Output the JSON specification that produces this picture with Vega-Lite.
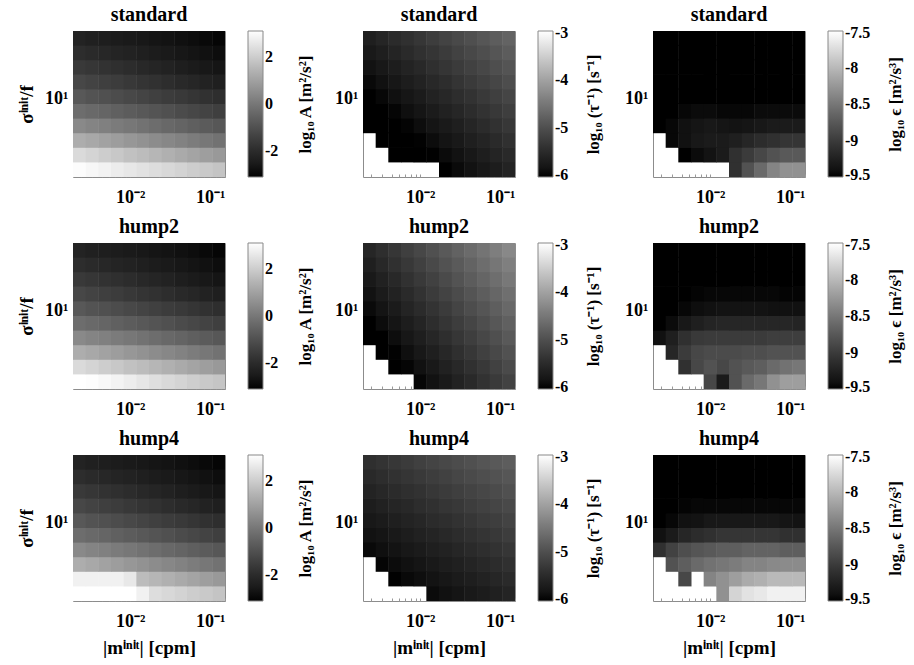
{
"$schema": "https://vega.github.io/schema/vega-lite/v6.json",
"background": "white",
"padding": {"left": 17, "top": 4, "right": 2, "bottom": 2},
"datasets": {
"xs": [{"i":0,"x":0.0025,"x2":0.003441},{"i":1,"x":0.0034,"x2":0.004675},{"i":2,"x":0.00462,"x2":0.006365},{"i":3,"x":0.00629,"x2":0.008653},{"i":4,"x":0.00855,"x2":0.01177},{"i":5,"x":0.01163,"x2":0.01599},{"i":6,"x":0.0158,"x2":0.02176},{"i":7,"x":0.0215,"x2":0.02955},{"i":8,"x":0.0292,"x2":0.04028},{"i":9,"x":0.0398,"x2":0.05475},{"i":10,"x":0.0541,"x2":0.07438},{"i":11,"x":0.0735,"x2":0.1012}],
"ys": [{"j":0,"y":2,"y2":2.739},{"j":1,"y":2.698,"y2":3.696},{"j":2,"y":3.641,"y2":4.986},{"j":3,"y":4.912,"y2":6.727},{"j":4,"y":6.628,"y2":9.078},{"j":5,"y":8.944,"y2":12.25},{"j":6,"y":12.07,"y2":16.52},{"j":7,"y":16.28,"y2":22.30},{"j":8,"y":21.97,"y2":30.08},{"j":9,"y":29.64,"y2":40.6}],
"cells": [
{"i":0,"j":0,"a1":3.04,"a2":3.10,"a3":3.10},
{"i":1,"j":0,"a1":2.93,"a2":3.05,"a3":3.10},
{"i":2,"j":0,"a1":2.82,"a2":2.95,"a3":3.10},
{"i":3,"j":0,"a1":2.70,"a2":2.85,"a3":3.10},
{"i":4,"j":0,"a1":2.59,"a2":2.72,"a3":3.10,"t2":-5.95,"e2":-8.90},
{"i":5,"j":0,"a1":2.48,"a2":2.55,"a3":2.80,"t2":-5.83,"t3":-5.91,"e2":-9.30,"e3":-8.30},
{"i":6,"j":0,"a1":2.36,"a2":2.40,"a3":2.36,"t1":-6.00,"t2":-5.72,"t3":-5.85,"e1":-9.10,"e2":-8.80,"e3":-7.80},
{"i":7,"j":0,"a1":2.25,"a2":2.28,"a3":2.25,"t1":-5.92,"t2":-5.61,"t3":-5.80,"e1":-8.80,"e2":-8.60,"e3":-7.70},
{"i":8,"j":0,"a1":2.14,"a2":2.16,"a3":2.14,"t1":-5.84,"t2":-5.50,"t3":-5.74,"e1":-8.60,"e2":-8.50,"e3":-7.66},
{"i":9,"j":0,"a1":2.02,"a2":2.04,"a3":2.02,"t1":-5.76,"t2":-5.38,"t3":-5.69,"e1":-8.40,"e2":-8.30,"e3":-7.60},
{"i":10,"j":0,"a1":1.91,"a2":1.93,"a3":1.91,"t1":-5.68,"t2":-5.27,"t3":-5.63,"e1":-8.30,"e2":-8.20,"e3":-7.60},
{"i":11,"j":0,"a1":1.80,"a2":1.82,"a3":1.80,"t1":-5.59,"t2":-5.16,"t3":-5.58,"e1":-8.30,"e2":-8.20,"e3":-7.60},
{"i":0,"j":1,"a1":2.29,"a2":2.29,"a3":2.80},
{"i":1,"j":1,"a1":2.16,"a2":2.16,"a3":2.80},
{"i":2,"j":1,"a1":2.02,"a2":2.02,"a3":2.80,"t1":-6.00,"t2":-6.00,"t3":-5.99,"e1":-9.50,"e2":-9.10,"e3":-8.90},
{"i":3,"j":1,"a1":1.89,"a2":1.89,"a3":2.80,"t1":-6.00,"t2":-5.96,"t3":-5.93,"e1":-9.44,"e2":-8.90},
{"i":4,"j":1,"a1":1.75,"a2":1.75,"a3":2.60,"t1":-6.00,"t2":-5.85,"t3":-5.88,"e1":-9.38,"e2":-8.80,"e3":-8.40},
{"i":5,"j":1,"a1":1.62,"a2":1.62,"a3":1.62,"t1":-5.99,"t2":-5.74,"t3":-5.82,"e1":-9.30,"e2":-8.90,"e3":-8.30},
{"i":6,"j":1,"a1":1.48,"a2":1.48,"a3":1.48,"t1":-5.91,"t2":-5.62,"t3":-5.77,"e1":-9.10,"e2":-8.80,"e3":-8.20},
{"i":7,"j":1,"a1":1.35,"a2":1.35,"a3":1.35,"t1":-5.83,"t2":-5.51,"t3":-5.71,"e1":-9.00,"e2":-8.74,"e3":-8.10},
{"i":8,"j":1,"a1":1.21,"a2":1.21,"a3":1.21,"t1":-5.75,"t2":-5.40,"t3":-5.66,"e1":-8.90,"e2":-8.70,"e3":-8.06},
{"i":9,"j":1,"a1":1.08,"a2":1.08,"a3":1.08,"t1":-5.66,"t2":-5.29,"t3":-5.60,"e1":-8.80,"e2":-8.60,"e3":-8.00},
{"i":10,"j":1,"a1":0.94,"a2":0.94,"a3":0.94,"t1":-5.58,"t2":-5.18,"t3":-5.55,"e1":-8.74,"e2":-8.54,"e3":-8.00},
{"i":11,"j":1,"a1":0.81,"a2":0.81,"a3":0.81,"t1":-5.50,"t2":-5.06,"t3":-5.49,"e1":-8.74,"e2":-8.50,"e3":-8.00},
{"i":0,"j":2,"a1":1.29,"a2":1.29,"a3":1.29},
{"i":1,"j":2,"a1":1.17,"a2":1.17,"a3":1.17,"t1":-6.00,"t2":-6.00,"t3":-5.96,"e1":-9.46,"e2":-9.20,"e3":-8.80},
{"i":2,"j":2,"a1":1.04,"a2":1.04,"a3":1.04,"t1":-6.00,"t2":-5.98,"t3":-5.90,"e1":-9.40,"e2":-9.00,"e3":-8.70},
{"i":3,"j":2,"a1":0.91,"a2":0.91,"a3":0.91,"t1":-6.00,"t2":-5.87,"t3":-5.85,"e1":-9.34,"e2":-8.90,"e3":-8.60},
{"i":4,"j":2,"a1":0.78,"a2":0.78,"a3":0.78,"t1":-5.98,"t2":-5.76,"t3":-5.79,"e1":-9.30,"e2":-8.86,"e3":-8.54},
{"i":5,"j":2,"a1":0.65,"a2":0.65,"a3":0.65,"t1":-5.90,"t2":-5.64,"t3":-5.74,"e1":-9.30,"e2":-8.86,"e3":-8.50},
{"i":6,"j":2,"a1":0.52,"a2":0.52,"a3":0.52,"t1":-5.81,"t2":-5.53,"t3":-5.68,"e1":-9.26,"e2":-8.86,"e3":-8.46},
{"i":7,"j":2,"a1":0.39,"a2":0.39,"a3":0.39,"t1":-5.73,"t2":-5.42,"t3":-5.63,"e1":-9.20,"e2":-8.84,"e3":-8.40},
{"i":8,"j":2,"a1":0.26,"a2":0.26,"a3":0.26,"t1":-5.65,"t2":-5.31,"t3":-5.57,"e1":-9.14,"e2":-8.84,"e3":-8.40},
{"i":9,"j":2,"a1":0.13,"a2":0.13,"a3":0.13,"t1":-5.57,"t2":-5.19,"t3":-5.52,"e1":-9.10,"e2":-8.80,"e3":-8.36},
{"i":10,"j":2,"a1":0.00,"a2":0.00,"a3":0.00,"t1":-5.49,"t2":-5.08,"t3":-5.46,"e1":-9.06,"e2":-8.80,"e3":-8.34},
{"i":11,"j":2,"a1":-0.12,"a2":-0.12,"a3":-0.12,"t1":-5.40,"t2":-4.97,"t3":-5.41,"e1":-9.06,"e2":-8.80,"e3":-8.34},
{"i":0,"j":3,"a1":0.44,"a2":0.44,"a3":0.44,"t1":-6.00,"t2":-6.00,"t3":-5.93,"e1":-9.50,"e2":-9.40,"e3":-9.10},
{"i":1,"j":3,"a1":0.33,"a2":0.33,"a3":0.33,"t1":-6.00,"t2":-6.00,"t3":-5.87,"e1":-9.46,"e2":-9.26,"e3":-8.94},
{"i":2,"j":3,"a1":0.22,"a2":0.22,"a3":0.22,"t1":-6.00,"t2":-5.89,"t3":-5.82,"e1":-9.40,"e2":-9.10,"e3":-8.84},
{"i":3,"j":3,"a1":0.10,"a2":0.10,"a3":0.10,"t1":-5.97,"t2":-5.77,"t3":-5.76,"e1":-9.36,"e2":-9.02,"e3":-8.78},
{"i":4,"j":3,"a1":-0.01,"a2":-0.01,"a3":-0.01,"t1":-5.89,"t2":-5.66,"t3":-5.71,"e1":-9.34,"e2":-9.00,"e3":-8.74},
{"i":5,"j":3,"a1":-0.13,"a2":-0.13,"a3":-0.13,"t1":-5.80,"t2":-5.55,"t3":-5.65,"e1":-9.36,"e2":-9.00,"e3":-8.70},
{"i":6,"j":3,"a1":-0.24,"a2":-0.24,"a3":-0.24,"t1":-5.72,"t2":-5.43,"t3":-5.60,"e1":-9.38,"e2":-9.00,"e3":-8.70},
{"i":7,"j":3,"a1":-0.36,"a2":-0.36,"a3":-0.36,"t1":-5.64,"t2":-5.32,"t3":-5.54,"e1":-9.36,"e2":-9.00,"e3":-8.66},
{"i":8,"j":3,"a1":-0.47,"a2":-0.47,"a3":-0.47,"t1":-5.56,"t2":-5.21,"t3":-5.49,"e1":-9.34,"e2":-9.00,"e3":-8.66},
{"i":9,"j":3,"a1":-0.59,"a2":-0.59,"a3":-0.59,"t1":-5.47,"t2":-5.10,"t3":-5.43,"e1":-9.30,"e2":-8.98,"e3":-8.66},
{"i":10,"j":3,"a1":-0.70,"a2":-0.70,"a3":-0.70,"t1":-5.39,"t2":-4.99,"t3":-5.38,"e1":-9.30,"e2":-8.98,"e3":-8.70},
{"i":11,"j":3,"a1":-0.81,"a2":-0.81,"a3":-0.81,"t1":-5.31,"t2":-4.87,"t3":-5.32,"e1":-9.30,"e2":-8.98,"e3":-8.70},
{"i":0,"j":4,"a1":-0.24,"a2":-0.24,"a3":-0.24,"t1":-6.00,"t2":-6.00,"t3":-5.84,"e1":-9.50,"e2":-9.50,"e3":-9.40},
{"i":1,"j":4,"a1":-0.35,"a2":-0.35,"a3":-0.35,"t1":-6.00,"t2":-5.90,"t3":-5.79,"e1":-9.50,"e2":-9.44,"e3":-9.30},
{"i":2,"j":4,"a1":-0.46,"a2":-0.46,"a3":-0.46,"t1":-5.96,"t2":-5.79,"t3":-5.73,"e1":-9.46,"e2":-9.34,"e3":-9.20},
{"i":3,"j":4,"a1":-0.57,"a2":-0.57,"a3":-0.57,"t1":-5.87,"t2":-5.68,"t3":-5.68,"e1":-9.44,"e2":-9.26,"e3":-9.14},
{"i":4,"j":4,"a1":-0.68,"a2":-0.68,"a3":-0.68,"t1":-5.79,"t2":-5.57,"t3":-5.62,"e1":-9.44,"e2":-9.22,"e3":-9.10},
{"i":5,"j":4,"a1":-0.79,"a2":-0.79,"a3":-0.79,"t1":-5.71,"t2":-5.45,"t3":-5.57,"e1":-9.46,"e2":-9.20,"e3":-9.06},
{"i":6,"j":4,"a1":-0.89,"a2":-0.89,"a3":-0.89,"t1":-5.62,"t2":-5.34,"t3":-5.51,"e1":-9.46,"e2":-9.20,"e3":-9.06},
{"i":7,"j":4,"a1":-1.00,"a2":-1.00,"a3":-1.00,"t1":-5.54,"t2":-5.23,"t3":-5.46,"e1":-9.46,"e2":-9.20,"e3":-9.06},
{"i":8,"j":4,"a1":-1.11,"a2":-1.11,"a3":-1.11,"t1":-5.46,"t2":-5.12,"t3":-5.40,"e1":-9.44,"e2":-9.20,"e3":-9.06},
{"i":9,"j":4,"a1":-1.22,"a2":-1.22,"a3":-1.22,"t1":-5.38,"t2":-5.00,"t3":-5.35,"e1":-9.44,"e2":-9.20,"e3":-9.06},
{"i":10,"j":4,"a1":-1.33,"a2":-1.33,"a3":-1.33,"t1":-5.30,"t2":-4.89,"t3":-5.29,"e1":-9.44,"e2":-9.20,"e3":-9.10},
{"i":11,"j":4,"a1":-1.44,"a2":-1.44,"a3":-1.44,"t1":-5.21,"t2":-4.78,"t3":-5.23,"e1":-9.44,"e2":-9.22,"e3":-9.10},
{"i":0,"j":5,"a1":-0.79,"a2":-0.79,"a3":-0.79,"t1":-6.00,"t2":-5.92,"t3":-5.76,"e1":-9.50,"e2":-9.50,"e3":-9.50},
{"i":1,"j":5,"a1":-0.90,"a2":-0.90,"a3":-0.90,"t1":-5.94,"t2":-5.81,"t3":-5.70,"e1":-9.50,"e2":-9.50,"e3":-9.46},
{"i":2,"j":5,"a1":-1.00,"a2":-1.00,"a3":-1.00,"t1":-5.86,"t2":-5.70,"t3":-5.65,"e1":-9.50,"e2":-9.46,"e3":-9.40},
{"i":3,"j":5,"a1":-1.10,"a2":-1.10,"a3":-1.10,"t1":-5.78,"t2":-5.58,"t3":-5.59,"e1":-9.50,"e2":-9.42,"e3":-9.38},
{"i":4,"j":5,"a1":-1.21,"a2":-1.21,"a3":-1.21,"t1":-5.70,"t2":-5.47,"t3":-5.54,"e1":-9.50,"e2":-9.40,"e3":-9.34},
{"i":5,"j":5,"a1":-1.31,"a2":-1.31,"a3":-1.31,"t1":-5.61,"t2":-5.36,"t3":-5.48,"e1":-9.50,"e2":-9.38,"e3":-9.34},
{"i":6,"j":5,"a1":-1.41,"a2":-1.41,"a3":-1.41,"t1":-5.53,"t2":-5.25,"t3":-5.43,"e1":-9.50,"e2":-9.38,"e3":-9.34},
{"i":7,"j":5,"a1":-1.52,"a2":-1.52,"a3":-1.52,"t1":-5.45,"t2":-5.13,"t3":-5.37,"e1":-9.50,"e2":-9.38,"e3":-9.34},
{"i":8,"j":5,"a1":-1.62,"a2":-1.62,"a3":-1.62,"t1":-5.37,"t2":-5.02,"t3":-5.32,"e1":-9.50,"e2":-9.38,"e3":-9.34},
{"i":9,"j":5,"a1":-1.72,"a2":-1.72,"a3":-1.72,"t1":-5.28,"t2":-4.91,"t3":-5.26,"e1":-9.50,"e2":-9.40,"e3":-9.34},
{"i":10,"j":5,"a1":-1.83,"a2":-1.83,"a3":-1.83,"t1":-5.20,"t2":-4.80,"t3":-5.21,"e1":-9.50,"e2":-9.40,"e3":-9.36},
{"i":11,"j":5,"a1":-1.93,"a2":-1.93,"a3":-1.93,"t1":-5.12,"t2":-4.68,"t3":-5.15,"e1":-9.50,"e2":-9.40,"e3":-9.38},
{"i":0,"j":6,"a1":-1.23,"a2":-1.23,"a3":-1.23,"t1":-5.93,"t2":-5.83,"t3":-5.67,"e1":-9.50,"e2":-9.50,"e3":-9.50},
{"i":1,"j":6,"a1":-1.34,"a2":-1.34,"a3":-1.34,"t1":-5.85,"t2":-5.71,"t3":-5.62,"e1":-9.50,"e2":-9.50,"e3":-9.50},
{"i":2,"j":6,"a1":-1.44,"a2":-1.44,"a3":-1.44,"t1":-5.77,"t2":-5.60,"t3":-5.56,"e1":-9.50,"e2":-9.50,"e3":-9.48},
{"i":3,"j":6,"a1":-1.54,"a2":-1.54,"a3":-1.54,"t1":-5.68,"t2":-5.49,"t3":-5.51,"e1":-9.50,"e2":-9.48,"e3":-9.46},
{"i":4,"j":6,"a1":-1.65,"a2":-1.65,"a3":-1.65,"t1":-5.60,"t2":-5.38,"t3":-5.45,"e1":-9.50,"e2":-9.46,"e3":-9.46},
{"i":5,"j":6,"a1":-1.75,"a2":-1.75,"a3":-1.75,"t1":-5.52,"t2":-5.26,"t3":-5.40,"e1":-9.50,"e2":-9.46,"e3":-9.46},
{"i":6,"j":6,"a1":-1.85,"a2":-1.85,"a3":-1.85,"t1":-5.44,"t2":-5.15,"t3":-5.34,"e1":-9.50,"e2":-9.46,"e3":-9.46},
{"i":7,"j":6,"a1":-1.96,"a2":-1.96,"a3":-1.96,"t1":-5.35,"t2":-5.04,"t3":-5.29,"e1":-9.50,"e2":-9.46,"e3":-9.46},
{"i":8,"j":6,"a1":-2.06,"a2":-2.06,"a3":-2.06,"t1":-5.27,"t2":-4.93,"t3":-5.23,"e1":-9.50,"e2":-9.46,"e3":-9.46},
{"i":9,"j":6,"a1":-2.16,"a2":-2.16,"a3":-2.16,"t1":-5.19,"t2":-4.81,"t3":-5.18,"e1":-9.50,"e2":-9.46,"e3":-9.46},
{"i":10,"j":6,"a1":-2.27,"a2":-2.27,"a3":-2.27,"t1":-5.11,"t2":-4.70,"t3":-5.12,"e1":-9.50,"e2":-9.48,"e3":-9.46},
{"i":11,"j":6,"a1":-2.37,"a2":-2.37,"a3":-2.37,"t1":-5.02,"t2":-4.59,"t3":-5.07,"e1":-9.50,"e2":-9.48,"e3":-9.46},
{"i":0,"j":7,"a1":-1.60,"a2":-1.60,"a3":-1.60,"t1":-5.84,"t2":-5.73,"t3":-5.59,"e1":-9.5,"e2":-9.5,"e3":-9.5},
{"i":1,"j":7,"a1":-1.70,"a2":-1.70,"a3":-1.70,"t1":-5.75,"t2":-5.62,"t3":-5.53,"e1":-9.5,"e2":-9.5,"e3":-9.5},
{"i":2,"j":7,"a1":-1.80,"a2":-1.80,"a3":-1.80,"t1":-5.67,"t2":-5.51,"t3":-5.48,"e1":-9.5,"e2":-9.5,"e3":-9.5},
{"i":3,"j":7,"a1":-1.89,"a2":-1.89,"a3":-1.89,"t1":-5.59,"t2":-5.39,"t3":-5.42,"e1":-9.5,"e2":-9.5,"e3":-9.5},
{"i":4,"j":7,"a1":-1.99,"a2":-1.99,"a3":-1.99,"t1":-5.51,"t2":-5.28,"t3":-5.37,"e1":-9.5,"e2":-9.5,"e3":-9.5},
{"i":5,"j":7,"a1":-2.09,"a2":-2.09,"a3":-2.09,"t1":-5.42,"t2":-5.17,"t3":-5.31,"e1":-9.5,"e2":-9.5,"e3":-9.5},
{"i":6,"j":7,"a1":-2.19,"a2":-2.19,"a3":-2.19,"t1":-5.34,"t2":-5.06,"t3":-5.26,"e1":-9.5,"e2":-9.5,"e3":-9.5},
{"i":7,"j":7,"a1":-2.29,"a2":-2.29,"a3":-2.29,"t1":-5.26,"t2":-4.94,"t3":-5.20,"e1":-9.5,"e2":-9.5,"e3":-9.5},
{"i":8,"j":7,"a1":-2.39,"a2":-2.39,"a3":-2.39,"t1":-5.18,"t2":-4.83,"t3":-5.15,"e1":-9.5,"e2":-9.5,"e3":-9.5},
{"i":9,"j":7,"a1":-2.48,"a2":-2.48,"a3":-2.48,"t1":-5.09,"t2":-4.72,"t3":-5.09,"e1":-9.5,"e2":-9.5,"e3":-9.5},
{"i":10,"j":7,"a1":-2.58,"a2":-2.58,"a3":-2.58,"t1":-5.01,"t2":-4.61,"t3":-5.04,"e1":-9.5,"e2":-9.5,"e3":-9.5},
{"i":11,"j":7,"a1":-2.68,"a2":-2.68,"a3":-2.68,"t1":-4.93,"t2":-4.49,"t3":-4.98,"e1":-9.5,"e2":-9.5,"e3":-9.5},
{"i":0,"j":8,"a1":-1.96,"a2":-1.96,"a3":-1.96,"t1":-5.74,"t2":-5.64,"t3":-5.50,"e1":-9.5,"e2":-9.5,"e3":-9.5},
{"i":1,"j":8,"a1":-2.04,"a2":-2.04,"a3":-2.04,"t1":-5.66,"t2":-5.52,"t3":-5.45,"e1":-9.5,"e2":-9.5,"e3":-9.5},
{"i":2,"j":8,"a1":-2.13,"a2":-2.13,"a3":-2.13,"t1":-5.58,"t2":-5.41,"t3":-5.39,"e1":-9.5,"e2":-9.5,"e3":-9.5},
{"i":3,"j":8,"a1":-2.21,"a2":-2.21,"a3":-2.21,"t1":-5.49,"t2":-5.30,"t3":-5.34,"e1":-9.5,"e2":-9.5,"e3":-9.5},
{"i":4,"j":8,"a1":-2.29,"a2":-2.29,"a3":-2.29,"t1":-5.41,"t2":-5.19,"t3":-5.28,"e1":-9.5,"e2":-9.5,"e3":-9.5},
{"i":5,"j":8,"a1":-2.37,"a2":-2.37,"a3":-2.37,"t1":-5.33,"t2":-5.07,"t3":-5.23,"e1":-9.5,"e2":-9.5,"e3":-9.5},
{"i":6,"j":8,"a1":-2.46,"a2":-2.46,"a3":-2.46,"t1":-5.25,"t2":-4.96,"t3":-5.17,"e1":-9.5,"e2":-9.5,"e3":-9.5},
{"i":7,"j":8,"a1":-2.54,"a2":-2.54,"a3":-2.54,"t1":-5.16,"t2":-4.85,"t3":-5.11,"e1":-9.5,"e2":-9.5,"e3":-9.5},
{"i":8,"j":8,"a1":-2.62,"a2":-2.62,"a3":-2.62,"t1":-5.08,"t2":-4.74,"t3":-5.06,"e1":-9.5,"e2":-9.5,"e3":-9.5},
{"i":9,"j":8,"a1":-2.70,"a2":-2.70,"a3":-2.70,"t1":-5.00,"t2":-4.62,"t3":-5.00,"e1":-9.5,"e2":-9.5,"e3":-9.5},
{"i":10,"j":8,"a1":-2.79,"a2":-2.79,"a3":-2.79,"t1":-4.92,"t2":-4.51,"t3":-4.95,"e1":-9.5,"e2":-9.5,"e3":-9.5},
{"i":11,"j":8,"a1":-2.87,"a2":-2.87,"a3":-2.87,"t1":-4.83,"t2":-4.40,"t3":-4.90,"e1":-9.5,"e2":-9.5,"e3":-9.5},
{"i":0,"j":9,"a1":-2.26,"a2":-2.26,"a3":-2.26,"t1":-5.65,"t2":-5.54,"t3":-5.42,"e1":-9.5,"e2":-9.5,"e3":-9.5},
{"i":1,"j":9,"a1":-2.33,"a2":-2.33,"a3":-2.33,"t1":-5.56,"t2":-5.43,"t3":-5.36,"e1":-9.5,"e2":-9.5,"e3":-9.5},
{"i":2,"j":9,"a1":-2.40,"a2":-2.40,"a3":-2.40,"t1":-5.48,"t2":-5.32,"t3":-5.31,"e1":-9.5,"e2":-9.5,"e3":-9.5},
{"i":3,"j":9,"a1":-2.47,"a2":-2.47,"a3":-2.47,"t1":-5.40,"t2":-5.20,"t3":-5.25,"e1":-9.5,"e2":-9.5,"e3":-9.5},
{"i":4,"j":9,"a1":-2.53,"a2":-2.53,"a3":-2.53,"t1":-5.32,"t2":-5.09,"t3":-5.19,"e1":-9.5,"e2":-9.5,"e3":-9.5},
{"i":5,"j":9,"a1":-2.60,"a2":-2.60,"a3":-2.60,"t1":-5.23,"t2":-4.98,"t3":-5.14,"e1":-9.5,"e2":-9.5,"e3":-9.5},
{"i":6,"j":9,"a1":-2.67,"a2":-2.67,"a3":-2.67,"t1":-5.15,"t2":-4.87,"t3":-5.08,"e1":-9.5,"e2":-9.5,"e3":-9.5},
{"i":7,"j":9,"a1":-2.74,"a2":-2.74,"a3":-2.74,"t1":-5.07,"t2":-4.75,"t3":-5.03,"e1":-9.5,"e2":-9.5,"e3":-9.5},
{"i":8,"j":9,"a1":-2.80,"a2":-2.80,"a3":-2.80,"t1":-4.99,"t2":-4.64,"t3":-4.98,"e1":-9.5,"e2":-9.5,"e3":-9.5},
{"i":9,"j":9,"a1":-2.87,"a2":-2.87,"a3":-2.87,"t1":-4.90,"t2":-4.53,"t3":-4.92,"e1":-9.5,"e2":-9.5,"e3":-9.5},
{"i":10,"j":9,"a1":-2.94,"a2":-2.94,"a3":-2.94,"t1":-4.82,"t2":-4.42,"t3":-4.87,"e1":-9.5,"e2":-9.5,"e3":-9.5},
{"i":11,"j":9,"a1":-3.01,"a2":-3.01,"a3":-3.01,"t1":-4.74,"t2":-4.30,"t3":-4.81,"e1":-9.5,"e2":-9.5,"e3":-9.5}
]
},
"data": {"name": "cells"},
"transform": [
{"lookup": "i", "from": {"data": {"name": "xs"}, "key": "i", "fields": ["x", "x2"]}},
{"lookup": "j", "from": {"data": {"name": "ys"}, "key": "j", "fields": ["y", "y2"]}}
],
"columns": 3,
"spacing": {"row": 66, "column": 138},
"bounds": "flush",
"concat": [
{"title": "standard", "width": 152, "height": 146, "transform": [{"filter": "isValid(datum.a1)"}],
 "layer": [
 {"mark": {"type": "rect", "clip": true}, "encoding": {
  "x": {"field": "x", "type": "quantitative", "scale": {"type": "log", "domain": [0.0025, 0.1], "nice": false}, "axis": {"values": [0.003,0.004,0.005,0.006,0.007,0.008,0.009,0.01,0.02,0.03,0.04,0.05,0.06,0.07,0.08,0.09,0.1], "labelExpr": "datum.value == 0.01 ? '10⁻²' : datum.value == 0.1 ? '10⁻¹' : ''", "title": null}},
  "x2": {"field": "x2"},
  "y": {"field": "y", "type": "quantitative", "scale": {"type": "log", "domain": [2, 40], "nice": false}, "axis": {"values": [10], "labelExpr": "'10¹'", "title": "σⁱⁿⁱᵗ/f"}},
  "y2": {"field": "y2"},
  "color": {"field": "a1", "type": "quantitative", "scale": {"domain": [-3.1, 3.1], "range": ["#000000", "#ffffff"], "clamp": true}, "legend": {"title": null, "values": [-2, 0, 2], "labelExpr": "'' + datum.value"}}}},
 {"mark": {"type": "rect", "opacity": 0}, "encoding": {
  "x": {"field": "x", "type": "quantitative"}, "x2": {"field": "x2"},
  "y": {"field": "y", "type": "quantitative", "scale": {"type": "log", "domain": [2, 40], "nice": false}, "axis": {"orient": "right", "labels": false, "offset": 72, "title": "log₁₀ A [m²/s²]"}}, "y2": {"field": "y2"}}}
 ], "resolve": {"scale": {"y": "independent"}}},
{"title": "standard", "width": 152, "height": 146, "transform": [{"filter": "isValid(datum.t1)"}],
 "layer": [
 {"mark": {"type": "rect", "clip": true}, "encoding": {
  "x": {"field": "x", "type": "quantitative", "scale": {"type": "log", "domain": [0.0025, 0.1], "nice": false}, "axis": {"values": [0.003,0.004,0.005,0.006,0.007,0.008,0.009,0.01,0.02,0.03,0.04,0.05,0.06,0.07,0.08,0.09,0.1], "labelExpr": "datum.value == 0.01 ? '10⁻²' : datum.value == 0.1 ? '10⁻¹' : ''", "title": null}},
  "x2": {"field": "x2"},
  "y": {"field": "y", "type": "quantitative", "scale": {"type": "log", "domain": [2, 40], "nice": false}, "axis": {"values": [10], "labelExpr": "'10¹'", "title": null}},
  "y2": {"field": "y2"},
  "color": {"field": "t1", "type": "quantitative", "scale": {"domain": [-6, -3], "range": ["#000000", "#ffffff"], "clamp": true}, "legend": {"title": null, "values": [-5.955, -5, -4, -3.045], "labelExpr": "'' + round(datum.value)"}}}},
 {"mark": {"type": "rect", "opacity": 0}, "encoding": {
  "x": {"field": "x", "type": "quantitative"}, "x2": {"field": "x2"},
  "y": {"field": "y", "type": "quantitative", "scale": {"type": "log", "domain": [2, 40], "nice": false}, "axis": {"orient": "right", "labels": false, "offset": 70, "title": "log₁₀ (τ⁻¹) [s⁻¹]"}}, "y2": {"field": "y2"}}}
 ], "resolve": {"scale": {"y": "independent"}}},
{"title": "standard", "width": 152, "height": 146, "transform": [{"filter": "isValid(datum.e1)"}],
 "layer": [
 {"mark": {"type": "rect", "clip": true}, "encoding": {
  "x": {"field": "x", "type": "quantitative", "scale": {"type": "log", "domain": [0.0025, 0.1], "nice": false}, "axis": {"values": [0.003,0.004,0.005,0.006,0.007,0.008,0.009,0.01,0.02,0.03,0.04,0.05,0.06,0.07,0.08,0.09,0.1], "labelExpr": "datum.value == 0.01 ? '10⁻²' : datum.value == 0.1 ? '10⁻¹' : ''", "title": null}},
  "x2": {"field": "x2"},
  "y": {"field": "y", "type": "quantitative", "scale": {"type": "log", "domain": [2, 40], "nice": false}, "axis": {"values": [10], "labelExpr": "'10¹'", "title": null}},
  "y2": {"field": "y2"},
  "color": {"field": "e1", "type": "quantitative", "scale": {"domain": [-9.5, -7.5], "range": ["#000000", "#ffffff"], "clamp": true}, "legend": {"title": null, "values": [-9.47, -9, -8.5, -8, -7.53], "labelExpr": "'' + round(datum.value * 2) / 2"}}}},
 {"mark": {"type": "rect", "opacity": 0}, "encoding": {
  "x": {"field": "x", "type": "quantitative"}, "x2": {"field": "x2"},
  "y": {"field": "y", "type": "quantitative", "scale": {"type": "log", "domain": [2, 40], "nice": false}, "axis": {"orient": "right", "labels": false, "offset": 82, "title": "log₁₀ ϵ [m²/s³]"}}, "y2": {"field": "y2"}}}
 ], "resolve": {"scale": {"y": "independent"}}},
{"title": "hump2", "width": 152, "height": 146, "transform": [{"filter": "isValid(datum.a2)"}],
 "layer": [
 {"mark": {"type": "rect", "clip": true}, "encoding": {
  "x": {"field": "x", "type": "quantitative", "scale": {"type": "log", "domain": [0.0025, 0.1], "nice": false}, "axis": {"values": [0.003,0.004,0.005,0.006,0.007,0.008,0.009,0.01,0.02,0.03,0.04,0.05,0.06,0.07,0.08,0.09,0.1], "labelExpr": "datum.value == 0.01 ? '10⁻²' : datum.value == 0.1 ? '10⁻¹' : ''", "title": null}},
  "x2": {"field": "x2"},
  "y": {"field": "y", "type": "quantitative", "scale": {"type": "log", "domain": [2, 40], "nice": false}, "axis": {"values": [10], "labelExpr": "'10¹'", "title": "σⁱⁿⁱᵗ/f"}},
  "y2": {"field": "y2"},
  "color": {"field": "a2", "type": "quantitative", "scale": {"domain": [-3.1, 3.1], "range": ["#000000", "#ffffff"], "clamp": true}, "legend": {"title": null, "values": [-2, 0, 2], "labelExpr": "'' + datum.value"}}}},
 {"mark": {"type": "rect", "opacity": 0}, "encoding": {
  "x": {"field": "x", "type": "quantitative"}, "x2": {"field": "x2"},
  "y": {"field": "y", "type": "quantitative", "scale": {"type": "log", "domain": [2, 40], "nice": false}, "axis": {"orient": "right", "labels": false, "offset": 72, "title": "log₁₀ A [m²/s²]"}}, "y2": {"field": "y2"}}}
 ], "resolve": {"scale": {"y": "independent"}}},
{"title": "hump2", "width": 152, "height": 146, "transform": [{"filter": "isValid(datum.t2)"}],
 "layer": [
 {"mark": {"type": "rect", "clip": true}, "encoding": {
  "x": {"field": "x", "type": "quantitative", "scale": {"type": "log", "domain": [0.0025, 0.1], "nice": false}, "axis": {"values": [0.003,0.004,0.005,0.006,0.007,0.008,0.009,0.01,0.02,0.03,0.04,0.05,0.06,0.07,0.08,0.09,0.1], "labelExpr": "datum.value == 0.01 ? '10⁻²' : datum.value == 0.1 ? '10⁻¹' : ''", "title": null}},
  "x2": {"field": "x2"},
  "y": {"field": "y", "type": "quantitative", "scale": {"type": "log", "domain": [2, 40], "nice": false}, "axis": {"values": [10], "labelExpr": "'10¹'", "title": null}},
  "y2": {"field": "y2"},
  "color": {"field": "t2", "type": "quantitative", "scale": {"domain": [-6, -3], "range": ["#000000", "#ffffff"], "clamp": true}, "legend": {"title": null, "values": [-5.955, -5, -4, -3.045], "labelExpr": "'' + round(datum.value)"}}}},
 {"mark": {"type": "rect", "opacity": 0}, "encoding": {
  "x": {"field": "x", "type": "quantitative"}, "x2": {"field": "x2"},
  "y": {"field": "y", "type": "quantitative", "scale": {"type": "log", "domain": [2, 40], "nice": false}, "axis": {"orient": "right", "labels": false, "offset": 70, "title": "log₁₀ (τ⁻¹) [s⁻¹]"}}, "y2": {"field": "y2"}}}
 ], "resolve": {"scale": {"y": "independent"}}},
{"title": "hump2", "width": 152, "height": 146, "transform": [{"filter": "isValid(datum.e2)"}],
 "layer": [
 {"mark": {"type": "rect", "clip": true}, "encoding": {
  "x": {"field": "x", "type": "quantitative", "scale": {"type": "log", "domain": [0.0025, 0.1], "nice": false}, "axis": {"values": [0.003,0.004,0.005,0.006,0.007,0.008,0.009,0.01,0.02,0.03,0.04,0.05,0.06,0.07,0.08,0.09,0.1], "labelExpr": "datum.value == 0.01 ? '10⁻²' : datum.value == 0.1 ? '10⁻¹' : ''", "title": null}},
  "x2": {"field": "x2"},
  "y": {"field": "y", "type": "quantitative", "scale": {"type": "log", "domain": [2, 40], "nice": false}, "axis": {"values": [10], "labelExpr": "'10¹'", "title": null}},
  "y2": {"field": "y2"},
  "color": {"field": "e2", "type": "quantitative", "scale": {"domain": [-9.5, -7.5], "range": ["#000000", "#ffffff"], "clamp": true}, "legend": {"title": null, "values": [-9.47, -9, -8.5, -8, -7.53], "labelExpr": "'' + round(datum.value * 2) / 2"}}}},
 {"mark": {"type": "rect", "opacity": 0}, "encoding": {
  "x": {"field": "x", "type": "quantitative"}, "x2": {"field": "x2"},
  "y": {"field": "y", "type": "quantitative", "scale": {"type": "log", "domain": [2, 40], "nice": false}, "axis": {"orient": "right", "labels": false, "offset": 82, "title": "log₁₀ ϵ [m²/s³]"}}, "y2": {"field": "y2"}}}
 ], "resolve": {"scale": {"y": "independent"}}},
{"title": "hump4", "width": 152, "height": 146, "transform": [{"filter": "isValid(datum.a3)"}],
 "layer": [
 {"mark": {"type": "rect", "clip": true}, "encoding": {
  "x": {"field": "x", "type": "quantitative", "scale": {"type": "log", "domain": [0.0025, 0.1], "nice": false}, "axis": {"values": [0.003,0.004,0.005,0.006,0.007,0.008,0.009,0.01,0.02,0.03,0.04,0.05,0.06,0.07,0.08,0.09,0.1], "labelExpr": "datum.value == 0.01 ? '10⁻²' : datum.value == 0.1 ? '10⁻¹' : ''", "title": "|mⁱⁿⁱᵗ| [cpm]"}},
  "x2": {"field": "x2"},
  "y": {"field": "y", "type": "quantitative", "scale": {"type": "log", "domain": [2, 40], "nice": false}, "axis": {"values": [10], "labelExpr": "'10¹'", "title": "σⁱⁿⁱᵗ/f"}},
  "y2": {"field": "y2"},
  "color": {"field": "a3", "type": "quantitative", "scale": {"domain": [-3.1, 3.1], "range": ["#000000", "#ffffff"], "clamp": true}, "legend": {"title": null, "values": [-2, 0, 2], "labelExpr": "'' + datum.value"}}}},
 {"mark": {"type": "rect", "opacity": 0}, "encoding": {
  "x": {"field": "x", "type": "quantitative"}, "x2": {"field": "x2"},
  "y": {"field": "y", "type": "quantitative", "scale": {"type": "log", "domain": [2, 40], "nice": false}, "axis": {"orient": "right", "labels": false, "offset": 72, "title": "log₁₀ A [m²/s²]"}}, "y2": {"field": "y2"}}}
 ], "resolve": {"scale": {"y": "independent"}}},
{"title": "hump4", "width": 152, "height": 146, "transform": [{"filter": "isValid(datum.t3)"}],
 "layer": [
 {"mark": {"type": "rect", "clip": true}, "encoding": {
  "x": {"field": "x", "type": "quantitative", "scale": {"type": "log", "domain": [0.0025, 0.1], "nice": false}, "axis": {"values": [0.003,0.004,0.005,0.006,0.007,0.008,0.009,0.01,0.02,0.03,0.04,0.05,0.06,0.07,0.08,0.09,0.1], "labelExpr": "datum.value == 0.01 ? '10⁻²' : datum.value == 0.1 ? '10⁻¹' : ''", "title": "|mⁱⁿⁱᵗ| [cpm]"}},
  "x2": {"field": "x2"},
  "y": {"field": "y", "type": "quantitative", "scale": {"type": "log", "domain": [2, 40], "nice": false}, "axis": {"values": [10], "labelExpr": "'10¹'", "title": null}},
  "y2": {"field": "y2"},
  "color": {"field": "t3", "type": "quantitative", "scale": {"domain": [-6, -3], "range": ["#000000", "#ffffff"], "clamp": true}, "legend": {"title": null, "values": [-5.955, -5, -4, -3.045], "labelExpr": "'' + round(datum.value)"}}}},
 {"mark": {"type": "rect", "opacity": 0}, "encoding": {
  "x": {"field": "x", "type": "quantitative"}, "x2": {"field": "x2"},
  "y": {"field": "y", "type": "quantitative", "scale": {"type": "log", "domain": [2, 40], "nice": false}, "axis": {"orient": "right", "labels": false, "offset": 70, "title": "log₁₀ (τ⁻¹) [s⁻¹]"}}, "y2": {"field": "y2"}}}
 ], "resolve": {"scale": {"y": "independent"}}},
{"title": "hump4", "width": 152, "height": 146, "transform": [{"filter": "isValid(datum.e3)"}],
 "layer": [
 {"mark": {"type": "rect", "clip": true}, "encoding": {
  "x": {"field": "x", "type": "quantitative", "scale": {"type": "log", "domain": [0.0025, 0.1], "nice": false}, "axis": {"values": [0.003,0.004,0.005,0.006,0.007,0.008,0.009,0.01,0.02,0.03,0.04,0.05,0.06,0.07,0.08,0.09,0.1], "labelExpr": "datum.value == 0.01 ? '10⁻²' : datum.value == 0.1 ? '10⁻¹' : ''", "title": "|mⁱⁿⁱᵗ| [cpm]"}},
  "x2": {"field": "x2"},
  "y": {"field": "y", "type": "quantitative", "scale": {"type": "log", "domain": [2, 40], "nice": false}, "axis": {"values": [10], "labelExpr": "'10¹'", "title": null}},
  "y2": {"field": "y2"},
  "color": {"field": "e3", "type": "quantitative", "scale": {"domain": [-9.5, -7.5], "range": ["#000000", "#ffffff"], "clamp": true}, "legend": {"title": null, "values": [-9.47, -9, -8.5, -8, -7.53], "labelExpr": "'' + round(datum.value * 2) / 2"}}}},
 {"mark": {"type": "rect", "opacity": 0}, "encoding": {
  "x": {"field": "x", "type": "quantitative"}, "x2": {"field": "x2"},
  "y": {"field": "y", "type": "quantitative", "scale": {"type": "log", "domain": [2, 40], "nice": false}, "axis": {"orient": "right", "labels": false, "offset": 82, "title": "log₁₀ ϵ [m²/s³]"}}, "y2": {"field": "y2"}}}
 ], "resolve": {"scale": {"y": "independent"}}}
],
"resolve": {"scale": {"color": "independent", "x": "independent", "y": "independent"}, "legend": {"color": "independent"}},
"config": {
 "font": "Liberation Serif",
 "view": {"stroke": "#8c8c8c", "strokeWidth": 1},
 "title": {"font": "Liberation Serif", "fontSize": 20, "fontWeight": "bold", "color": "#000000", "offset": 5},
 "axis": {"labelFont": "Liberation Serif", "labelFontSize": 18, "labelFontWeight": "bold", "labelColor": "#000000", "titleFont": "Liberation Serif", "titleFontSize": 19, "titleFontWeight": "bold", "titleColor": "#000000", "grid": false, "domain": false, "ticks": false, "titlePadding": 8},
 "axisX": {"labelPadding": 14, "ticks": true, "tickSize": -3, "tickColor": "#999999", "tickWidth": 1, "labelOverlap": false, "zindex": 1},
 "axisLeft": {"labelPadding": 5},
 "axisRight": {"titleAngle": -90, "titleBaseline": "top", "titlePadding": 0, "titleFontSize": 17},
 "legend": {"orient": "none", "legendX": 175, "legendY": 0, "padding": 0, "direction": "vertical", "gradientLength": 146, "gradientThickness": 15, "labelFont": "Liberation Serif", "labelFontSize": 16, "labelFontWeight": "bold", "labelColor": "#000000", "gradientStrokeColor": "#888888", "gradientStrokeWidth": 1, "labelOffset": 5, "labelOverlap": false}
}
}
